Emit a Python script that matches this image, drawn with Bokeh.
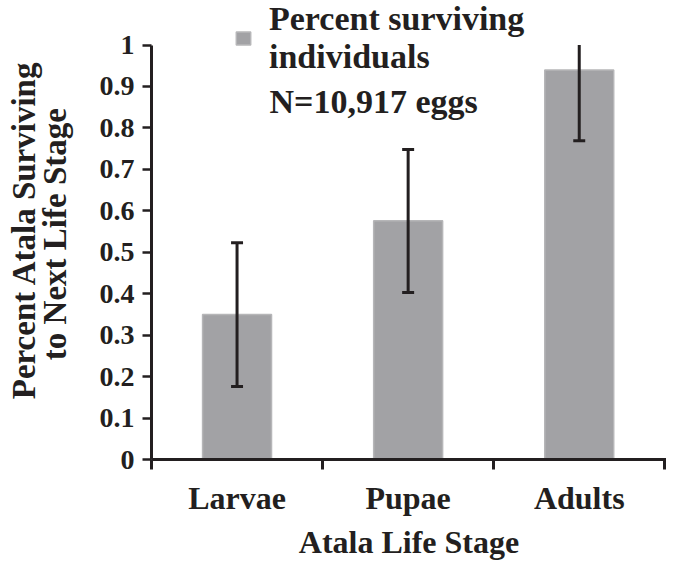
from bokeh.plotting import figure
from bokeh.models import (Range1d, FixedTicker, CustomJSTickFormatter, Legend,
                          LegendItem, Label, ColumnDataSource)
from bokeh.embed import file_html
from bokeh.resources import INLINE

# ---- data ----
stages = ["Larvae", "Pupae", "Adults"]
survival = [0.350, 0.576, 0.940]
err_low = [0.176, 0.403, 0.769]
err_high = [0.523, 0.748, 1.110]
y_ticks = [0, 0.1, 0.2, 0.3, 0.4, 0.5, 0.6, 0.7, 0.8, 0.9, 1.0]
legend_label = "Percent surviving\nindividuals"
note_text = "N=10,917 eggs"
x_title = "Atala Life Stage"
y_title = "Percent Atala Surviving\nto Next  Life Stage"

FONT = "Liberation Serif"
INK = "#231f20"
BAR = "#a2a2a5"

y_max = y_ticks[-1]
xs = list(range(len(stages)))
cap = 0.035
src = ColumnDataSource(dict(
    x=xs, top=survival, lo=err_low,
    hi=[min(h, y_max) for h in err_high],
    xl=[x - cap for x in xs], xr=[x + cap for x in xs],
))
# upper caps only where the whisker end lies inside the axis
cap_src = ColumnDataSource(dict(
    xl=[x - cap for x, h in zip(xs, err_high) if h <= y_max],
    xr=[x + cap for x, h in zip(xs, err_high) if h <= y_max],
    hi=[h for h in err_high if h <= y_max],
))

p = figure(width=666, height=562, x_range=Range1d(-0.5, 2.51), y_range=Range1d(0, 1.1075),
           output_backend="svg", toolbar_location=None,
           min_border_left=151, min_border_right=0, min_border_top=0, min_border_bottom=101)
p.outline_line_color = None
p.grid.visible = False
p.background_fill_color = "white"

bars = p.vbar(x="x", top="top", width=0.403, bottom=0, source=src,
              fill_color=BAR, line_color="#b6b6b8", line_width=1.5)
p.segment(x0="x", y0="lo", x1="x", y1="hi", source=src, line_color=INK, line_width=3)
p.segment(x0="xl", y0="lo", x1="xr", y1="lo", source=src, line_color=INK, line_width=3)
p.segment(x0="xl", y0="hi", x1="xr", y1="hi", source=cap_src, line_color=INK, line_width=3)

# y axis
ya = p.yaxis[0]
ya.bounds = (y_ticks[0], y_max)
ya.ticker = FixedTicker(ticks=y_ticks)
ya.formatter = CustomJSTickFormatter(code="return tick.toFixed(1).replace(/\\.0$/, '');")
ya.minor_tick_line_color = None
ya.major_tick_in = 0
ya.major_tick_out = 9
ya.major_tick_line_width = 2.5
ya.major_tick_line_color = INK
ya.axis_line_width = 3
ya.axis_line_color = INK
ya.major_label_standoff = 8
ya.major_label_text_font = FONT
ya.major_label_text_font_style = "bold"
ya.major_label_text_font_size = "28px"
ya.major_label_text_color = INK
ya.axis_label = y_title
ya.axis_label_text_font = FONT
ya.axis_label_text_font_style = "bold"
ya.axis_label_text_font_size = "33px"
ya.axis_label_text_color = INK
ya.axis_label_text_line_height = 0.85
ya.axis_label_standoff = 24

# x axis
xa = p.xaxis[0]
xa.ticker = FixedTicker(ticks=xs, minor_ticks=[-0.5, 0.5, 1.5, 2.5])
xa.major_label_overrides = {i: s for i, s in zip(xs, stages)}
xa.major_tick_in = 0
xa.major_tick_out = 0
xa.minor_tick_in = 0
xa.minor_tick_out = 10
xa.minor_tick_line_width = 3
xa.minor_tick_line_color = INK
xa.axis_line_width = 3
xa.axis_line_color = INK
xa.major_label_standoff = 10
xa.major_label_text_font = FONT
xa.major_label_text_font_style = "bold"
xa.major_label_text_font_size = "32px"
xa.major_label_text_color = INK
xa.axis_label = x_title
xa.axis_label_text_font = FONT
xa.axis_label_text_font_style = "bold"
xa.axis_label_text_font_size = "32px"
xa.axis_label_text_color = INK
xa.axis_label_standoff = 5

legend = Legend(items=[LegendItem(label=legend_label, renderers=[bars])],
                location=(83, 383), glyph_width=18, glyph_height=16,
                label_standoff=17, padding=0, margin=0, border_line_color=None,
                background_fill_alpha=0,
                label_text_font=FONT, label_text_font_size="34px",
                label_text_font_style="bold", label_text_color=INK,
                label_text_line_height=0.86)
p.add_layout(legend)

p.add_layout(Label(x=118, y=358, x_units="screen", y_units="screen", text=note_text,
                   text_font=FONT, text_font_size="34px", text_font_style="bold",
                   text_color=INK, text_baseline="alphabetic"))

open("out.html", "w").write(file_html(p, INLINE))
